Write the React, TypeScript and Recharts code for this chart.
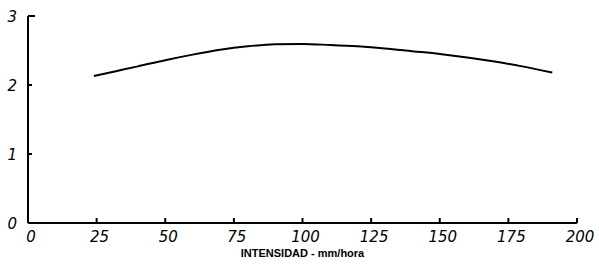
import { LineChart, Line, XAxis, YAxis, Label } from "recharts";

const INTENSITY = [24, 32, 40, 50, 60, 70, 80, 90, 100, 110, 120, 130, 140, 150, 160, 170, 180, 191];
const RATIO = [2.13, 2.2, 2.27, 2.36, 2.44, 2.51, 2.56, 2.59, 2.595, 2.58, 2.56, 2.53, 2.49, 2.45, 2.4, 2.34, 2.27, 2.18];
const X_TICKS = [0, 25, 50, 75, 100, 125, 150, 175, 200];
const Y_TICKS = [0, 1, 2, 3];

const data = INTENSITY.map((x, i) => ({ x, y: RATIO[i] }));

const TICK_FONT = "'DejaVu Sans', sans-serif";

// eslint-disable-next-line @typescript-eslint/no-explicit-any
function XTick({ x, y, payload }: any) {
  const first = payload.value === 0;
  return (
    <g>
      {!first && <line x1={x} y1={y} x2={x} y2={y - 5} stroke="#000" strokeWidth={2} />}
      <text x={x + 3} y={y + 19} textAnchor="middle" fontSize={15} fontStyle="italic"
        fontFamily={TICK_FONT} fill="#000">
        {payload.value}
      </text>
    </g>
  );
}

// eslint-disable-next-line @typescript-eslint/no-explicit-any
function YTick({ x, y, payload }: any) {
  const top = payload.value === 3;
  return (
    <g>
      {payload.value !== 0 && (
        <line x1={x} y1={y} x2={x + (top ? 7 : 4)} y2={y} stroke="#000" strokeWidth={2} />
      )}
      <text x={x - 11} y={y + 6} textAnchor="end" fontSize={15} fontStyle="italic"
        fontFamily={TICK_FONT} fill="#000">
        {payload.value}
      </text>
    </g>
  );
}

export default function App() {
  return (
    <div style={{ position: "fixed", top: 0, left: 0, background: "#fff" }}>
      <LineChart width={599} height={264} data={data}
        margin={{ top: 16, right: 22, left: 0, bottom: 0 }}>
        <XAxis
          dataKey="x"
          type="number"
          domain={[0, 200]}
          ticks={X_TICKS}
          interval={0}
          height={41}
          tickSize={0}
          tickMargin={0}
          tickLine={false}
          axisLine={{ stroke: "#000", strokeWidth: 2 }}
          tick={<XTick />}
        >
          <Label value="INTENSIDAD - mm/hora" position="insideBottom" offset={7}
            style={{ fontSize: 11, fontWeight: 700, fontFamily: "'Liberation Sans', Arial, sans-serif", fill: "#000" }} />
        </XAxis>
        <YAxis
          type="number"
          domain={[0, 3]}
          ticks={Y_TICKS}
          interval={0}
          width={28}
          tickSize={0}
          tickMargin={0}
          tickLine={false}
          axisLine={{ stroke: "#000", strokeWidth: 2 }}
          tick={<YTick />}
        />
        <Line type="monotone" dataKey="y" stroke="#000" strokeWidth={2} dot={false}
          isAnimationActive={false} />
      </LineChart>
    </div>
  );
}
